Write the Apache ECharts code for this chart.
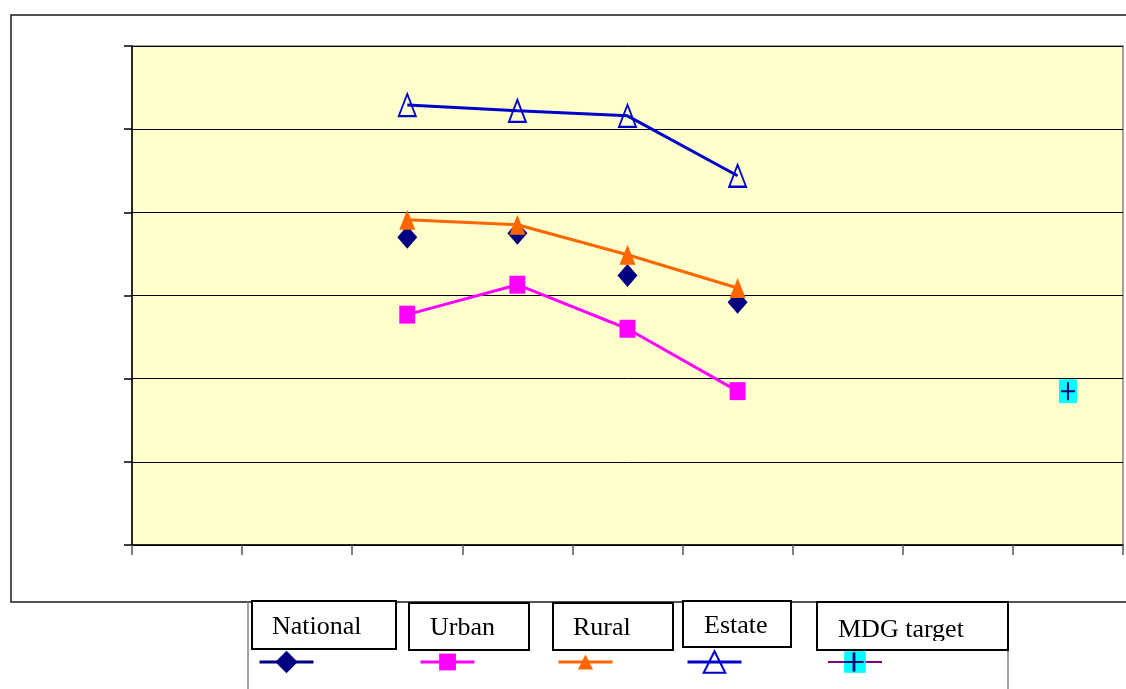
<!DOCTYPE html>
<html>
<head>
<meta charset="utf-8">
<script src="https://cdn.jsdelivr.net/npm/echarts@6/dist/echarts.min.js"></script>
<style>
  html, body { margin: 0; padding: 0; background: #ffffff; }
  #chart { width: 1126px; height: 689px; }
</style>
</head>
<body>
<div id="chart"></div>
<script>
// Survey rounds along the horizontal axis (unlabelled positions)
const categories = ['1', '2', '3', '4', '5', '6', '7', '8', '9'];

// Prevalence by sector, one value per survey round
const national  = [null, null, 37.0, 37.5, 32.4, 29.2, null, null, null];
const urban     = [null, null, 27.7, 31.3, 26.0, 18.5, null, null, null];
const rural     = [null, null, 39.1, 38.5, 34.9, 30.9, null, null, null];
const estate    = [null, null, 52.9, 52.2, 51.6, 44.4, null, null, null];
const mdgTarget = [null, null, null, null, null, null, null, null, 18.5];

// Value axis range and step
const yMin = 0;
const yMax = 60;
const yStep = 10;

// Legend captions
const legendNames = ['National', 'Urban', 'Rural', 'Estate', 'MDG target'];

const chart = echarts.init(document.getElementById('chart'), null, { renderer: 'canvas' });

const plusPath = 'path://M6,0H8V8H14V10H8V18H6V10H0V8H6Z';

const series = [
  {
    name: 'National', type: 'line', data: national,
    symbol: 'diamond', symbolSize: [20, 23],
    itemStyle: { color: '#000080' },
    lineStyle: { width: 0, opacity: 0, color: '#000080' },
    z: 2
  },
  {
    name: 'Urban', type: 'line', data: urban,
    symbol: 'rect', symbolSize: [16, 18],
    itemStyle: { color: '#FF00FF' },
    lineStyle: { width: 3, color: '#FF00FF' },
    z: 3
  },
  {
    name: 'Rural', type: 'line', data: rural,
    symbol: 'triangle', symbolSize: [16, 20],
    itemStyle: { color: '#FF6600' },
    lineStyle: { width: 3, color: '#FF6600' },
    z: 4
  },
  {
    name: 'Estate', type: 'line', data: estate,
    symbol: 'triangle', symbolSize: [17, 22],
    itemStyle: { color: 'rgba(0,0,0,0)', borderColor: '#0000CC', borderWidth: 2 },
    lineStyle: { width: 3, color: '#0000CC' },
    z: 5
  },
  {
    name: 'MDG target', type: 'line', data: mdgTarget,
    symbol: 'rect', symbolSize: [18, 24],
    itemStyle: { color: '#00FFFF' },
    lineStyle: { width: 2, color: '#800080' },
    z: 6
  },
  {
    name: 'MDG target mark', type: 'line', data: mdgTarget,
    symbol: plusPath, symbolSize: [14, 18],
    itemStyle: { color: '#000080' },
    lineStyle: { width: 0, opacity: 0 },
    z: 7
  }
];

series.forEach(s => {
  s.showSymbol = true;
  s.showAllSymbol = true;
  s.silent = true;
  s.emphasis = { disabled: true };
});

// Legend icons sit under their caption boxes
function legendAt(name, left, h, lineStyle) {
  return {
    data: [name],
    left: left,
    top: 662 - h / 2,
    orient: 'horizontal',
    itemWidth: 54,
    itemHeight: h,
    padding: 0,
    selectedMode: false,
    formatter: () => '',
    textStyle: { fontSize: 1 },
    lineStyle: lineStyle
  };
}

const legends = [
  legendAt('National', 258, 28, { color: '#000080', width: 3, opacity: 1 }),
  legendAt('Urban', 419, 21, { color: '#FF00FF', width: 3 }),
  legendAt('Rural', 557, 19, { color: '#FF6600', width: 3 }),
  legendAt('Estate', 686, 27, { color: '#0000CC', width: 3 }),
  legendAt('MDG target', 827, 27, { color: '#800080', width: 2 }),
  legendAt('MDG target mark', 827, 24, { width: 0, opacity: 0 })
];

// Caption boxes above the legend icons
const boxes = [
  { x: 252, y: 601, w: 144, h: 48, tx: 272, ty: 627 },
  { x: 409, y: 603, w: 120, h: 47, tx: 430, ty: 628 },
  { x: 553, y: 603, w: 120, h: 47, tx: 573, ty: 628 },
  { x: 683, y: 601, w: 108, h: 46, tx: 704, ty: 626 },
  { x: 817, y: 602, w: 191, h: 48, tx: 838, ty: 630 }
];

const graphics = [
  // outer chart frame
  { type: 'rect', shape: { x: 11, y: 15, width: 1200, height: 587 },
    style: { fill: 'none', stroke: '#1a1a1a', lineWidth: 1.5 }, z: 0, silent: true },
  // legend frame sides
  { type: 'line', shape: { x1: 248, y1: 602, x2: 248, y2: 689 },
    style: { stroke: '#808080', lineWidth: 1.5 }, silent: true },
  { type: 'line', shape: { x1: 1008, y1: 650, x2: 1008, y2: 689 },
    style: { stroke: '#808080', lineWidth: 1.5 }, silent: true }
];

boxes.forEach((b, i) => {
  graphics.push({
    type: 'rect', shape: { x: b.x, y: b.y, width: b.w, height: b.h },
    style: { fill: '#ffffff', stroke: '#000000', lineWidth: 2 }, z: 10, silent: true
  });
  graphics.push({
    type: 'text', x: b.tx, y: b.ty,
    style: {
      text: legendNames[i],
      font: '26px "Liberation Serif", "Times New Roman", serif',
      fill: '#000000', textAlign: 'left', textVerticalAlign: 'middle'
    },
    z: 11, silent: true
  });
});
// descenders of the last caption are hidden by its frame
graphics.push({
  type: 'rect', shape: { x: 819, y: 641, width: 187, height: 8 },
  style: { fill: '#ffffff' }, z: 12, silent: true
});

chart.setOption({
  animation: false,
  backgroundColor: '#ffffff',
  grid: {
    left: 132, right: 3, top: 46, bottom: 144,
    show: true, backgroundColor: '#FFFFCC',
    borderColor: '#808080', borderWidth: 1.5
  },
  legend: legends,
  xAxis: {
    type: 'category',
    data: categories,
    boundaryGap: true,
    axisLine: { show: true, lineStyle: { color: '#000000', width: 1.5 } },
    axisTick: { show: true, length: 10, inside: false, lineStyle: { color: '#555555', width: 1.5 } },
    axisLabel: { show: false },
    splitLine: { show: false }
  },
  yAxis: {
    type: 'value',
    min: yMin, max: yMax, interval: yStep,
    axisLine: { show: true, lineStyle: { color: '#000000', width: 1.5 } },
    axisTick: { show: true, length: 8, lineStyle: { color: '#000000', width: 1.5 } },
    axisLabel: { show: false },
    splitLine: { show: true, lineStyle: { color: '#000000', width: 1 } }
  },
  series: series,
  graphic: graphics
});
</script>
</body>
</html>
